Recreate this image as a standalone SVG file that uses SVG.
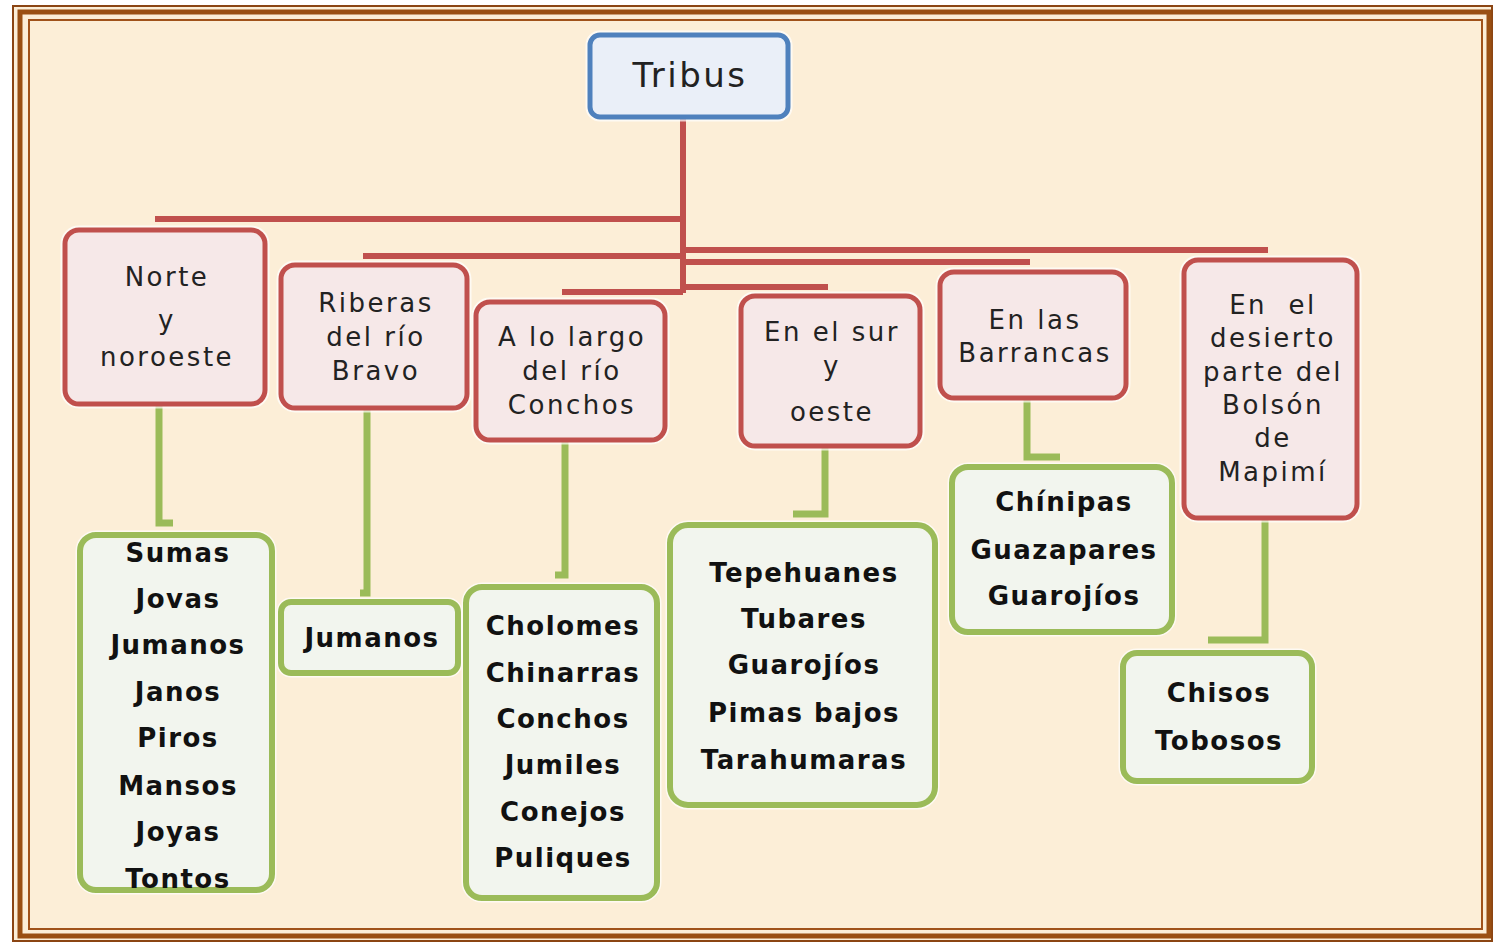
<svg xmlns="http://www.w3.org/2000/svg" width="1495" height="943" viewBox="0 0 1495 943">
<defs>
<style>
.halo{fill:none;stroke:#ffffff;stroke-width:9;opacity:0.7}
.pink{fill:#F6E8E8;stroke:#C0504D;stroke-width:5}
.green{fill:#F2F5EE;stroke:#9BBB59;stroke-width:6}
.blue{fill:#EAEFF8;stroke:#4F81BD;stroke-width:5}
.red{stroke:#C0504D;stroke-width:6;fill:none}
.gr{stroke:#9BBB59;stroke-width:7;fill:none}
.t{font-family:"DejaVu Sans","Open Sans",sans-serif;font-size:26px;fill:#222;text-anchor:middle;dominant-baseline:central;letter-spacing:2.5px}
.b{font-family:"DejaVu Sans","Open Sans",sans-serif;font-size:26px;font-weight:bold;fill:#111;text-anchor:middle;dominant-baseline:central;letter-spacing:1.5px}
</style>
</defs>
<rect x="0" y="0" width="1495" height="943" fill="#ffffff"/>
<rect x="13" y="5" width="1479" height="937" fill="#FCEED7"/>
<g id="frame" fill="none">
<rect x="13" y="6" width="1479" height="935" stroke="#8B4513" stroke-width="2"/>
<rect x="20" y="12" width="1469" height="924" stroke="#9A4F12" stroke-width="5"/>
<rect x="29" y="20" width="1453" height="909" stroke="#A0521A" stroke-width="2"/>
</g>
<g id="connectors">
<path class="red" d="M683 114V293"/>
<path class="red" d="M155 219H683"/>
<path class="red" d="M363 256H683"/>
<path class="red" d="M683 250H1268"/>
<path class="red" d="M683 262H1030"/>
<path class="red" d="M562 292H683"/>
<path class="red" d="M683 287H828"/>
<path class="gr" d="M159 402V523H173"/>
<path class="gr" d="M367 406V593H360"/>
<path class="gr" d="M565 438V575H555"/>
<path class="gr" d="M825 444V514H793"/>
<path class="gr" d="M1027 396V457H1060"/>
<path class="gr" d="M1265 516V640H1208"/>
</g>
<g id="tribus">
<rect class="halo" x="590" y="35" width="198" height="82" rx="10"/>
<rect class="blue" x="590" y="35" width="198" height="82" rx="10"/>
<text class="t" x="690" y="75" style="font-size:34px">Tribus</text>
</g>
<g id="norte">
<rect class="halo" x="65" y="230" width="200" height="174" rx="14"/>
<rect class="pink" x="65" y="230" width="200" height="174" rx="14"/>
<text class="t" x="167" y="277">Norte</text>
<text class="t" x="167" y="320">y</text>
<text class="t" x="167" y="357">noroeste</text>
</g>
<g id="riberas">
<rect class="halo" x="281" y="265" width="186" height="143" rx="14"/>
<rect class="pink" x="281" y="265" width="186" height="143" rx="14"/>
<text class="t" x="376" y="303">Riberas</text>
<text class="t" x="376" y="337">del río</text>
<text class="t" x="376" y="371">Bravo</text>
</g>
<g id="conchos">
<rect class="halo" x="476" y="302" width="189" height="138" rx="14"/>
<rect class="pink" x="476" y="302" width="189" height="138" rx="14"/>
<text class="t" x="572" y="337">A lo largo</text>
<text class="t" x="572" y="371">del río</text>
<text class="t" x="572" y="405">Conchos</text>
</g>
<g id="sur">
<rect class="halo" x="741" y="296" width="179" height="150" rx="14"/>
<rect class="pink" x="741" y="296" width="179" height="150" rx="14"/>
<text class="t" x="832" y="332">En el sur</text>
<text class="t" x="832" y="366">y</text>
<text class="t" x="832" y="412">oeste</text>
</g>
<g id="barrancas">
<rect class="halo" x="940" y="272" width="186" height="126" rx="14"/>
<rect class="pink" x="940" y="272" width="186" height="126" rx="14"/>
<text class="t" x="1035" y="320">En las</text>
<text class="t" x="1035" y="353">Barrancas</text>
</g>
<g id="desierto">
<rect class="halo" x="1184" y="260" width="173" height="258" rx="14"/>
<rect class="pink" x="1184" y="260" width="173" height="258" rx="14"/>
<text class="t" x="1273" y="305" xml:space="preserve">En  el</text>
<text class="t" x="1273" y="338">desierto</text>
<text class="t" x="1273" y="372">parte del</text>
<text class="t" x="1273" y="405">Bolsón</text>
<text class="t" x="1273" y="438">de</text>
<text class="t" x="1273" y="472">Mapimí</text>
</g>
<g id="g-norte">
<rect class="halo" x="80" y="535" width="192" height="355" rx="16"/>
<rect class="green" x="80" y="535" width="192" height="355" rx="16"/>
<text class="b" x="178" y="553">Sumas</text>
<text class="b" x="178" y="599">Jovas</text>
<text class="b" x="178" y="645">Jumanos</text>
<text class="b" x="178" y="692">Janos</text>
<text class="b" x="178" y="738">Piros</text>
<text class="b" x="178" y="786">Mansos</text>
<text class="b" x="178" y="832">Joyas</text>
<text class="b" x="178" y="879">Tontos</text>
</g>
<g id="g-riberas">
<rect class="halo" x="281" y="602" width="177" height="71" rx="10"/>
<rect class="green" x="281" y="602" width="177" height="71" rx="10"/>
<text class="b" x="372" y="638">Jumanos</text>
</g>
<g id="g-conchos">
<rect class="halo" x="466" y="587" width="191" height="311" rx="16"/>
<rect class="green" x="466" y="587" width="191" height="311" rx="16"/>
<text class="b" x="563" y="626">Cholomes</text>
<text class="b" x="563" y="673">Chinarras</text>
<text class="b" x="563" y="719">Conchos</text>
<text class="b" x="563" y="765">Jumiles</text>
<text class="b" x="563" y="812">Conejos</text>
<text class="b" x="563" y="858">Puliques</text>
</g>
<g id="g-sur">
<rect class="halo" x="670" y="525" width="265" height="280" rx="18"/>
<rect class="green" x="670" y="525" width="265" height="280" rx="18"/>
<text class="b" x="804" y="573">Tepehuanes</text>
<text class="b" x="804" y="619">Tubares</text>
<text class="b" x="804" y="665">Guarojíos</text>
<text class="b" x="804" y="713">Pimas bajos</text>
<text class="b" x="804" y="760">Tarahumaras</text>
</g>
<g id="g-barrancas">
<rect class="halo" x="952" y="467" width="220" height="165" rx="16"/>
<rect class="green" x="952" y="467" width="220" height="165" rx="16"/>
<text class="b" x="1064" y="502">Chínipas</text>
<text class="b" x="1064" y="550">Guazapares</text>
<text class="b" x="1064" y="596">Guarojíos</text>
</g>
<g id="g-desierto">
<rect class="halo" x="1123" y="653" width="189" height="128" rx="14"/>
<rect class="green" x="1123" y="653" width="189" height="128" rx="14"/>
<text class="b" x="1219" y="693">Chisos</text>
<text class="b" x="1219" y="741">Tobosos</text>
</g>
</svg>
